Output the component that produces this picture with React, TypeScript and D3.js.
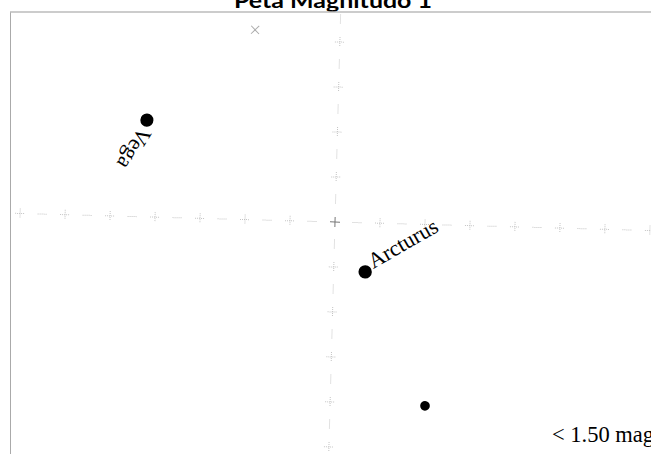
import * as d3 from "d3";

// star map values (grid units, 1 unit = one grid step; v grows upwards)
const starNames = ["Vega", "Arcturus", ""];
const starU = [-4.24, 0.7, 2.11];
const starV = [2.15, -1.09, -4.03];
const starMag = [0.03, -0.05, 0.98];

// zenith / pole marker
const markU = [-1.89];
const markV = [4.22];

// grid ticks along both axes
const uTicks = [-7, -6, -5, -4, -3, -2, -1, 0, 1, 2, 3, 4, 5, 6, 7];
const vTicks = [-5, -4, -3, -2, -1, 0, 1, 2, 3, 4];

const title = "Peta Magnitudo 1";
const legendText = "< 1.50 mag";

const W = 651;
const H = 454;
const cx = 335;
const cy = 222;
const tilt = 1.55;

export default function App() {
  const x = d3.scaleLinear().domain([-1, 1]).range([-45, 45]);
  const y = d3.scaleLinear().domain([-1, 1]).range([45, -45]);
  const r = d3.scaleLinear().domain([-0.05, 1.0]).range([6.7, 4.8]);

  const arm = 5;
  const dash = 5;
  const gridColor = "#c4c4c4";

  const uDashes = uTicks.slice(0, -1).map((t) => t + 0.5);
  const vDashes = [...vTicks.slice(0, -1).map((t) => t + 0.5), 4.5];

  // label offsets / angles (screen space)
  const labelDx = [-7, 8];
  const labelDy = [6, -3];
  const labelRot = [122, -30];

  return (
    <svg
      width={W}
      height={H}
      style={{ position: "absolute", left: 0, top: 0, background: "#fff" }}
    >
      <defs>
        <clipPath id="frame">
          <rect x={10.5} y={12} width={W} height={H} />
        </clipPath>
      </defs>

      <text
        x={333}
        y={8}
        textAnchor="middle"
        fontFamily="Lato, 'Open Sans', sans-serif"
        fontWeight="bold"
        fontSize={21}
        textLength={198}
        lengthAdjust="spacingAndGlyphs"
      >
        {title}
      </text>

      <g clipPath="url(#frame)">
        <g
          transform={`translate(${cx},${cy}) rotate(${tilt})`}
          strokeDasharray="1 1"
        >
          {/* horizontal grid line */}
          {uTicks.map((t) => (
            <g key={"hu" + t} transform={`translate(${x(t)},0)`}>
              <line
                x1={-arm}
                x2={arm}
                stroke={t === 0 ? "#777" : gridColor}
                strokeDasharray={t === 0 ? "none" : "1 1"}
              />
              <line
                y1={-arm}
                y2={arm}
                stroke={t === 0 ? "#777" : gridColor}
                strokeDasharray={t === 0 ? "none" : "1 1"}
              />
            </g>
          ))}
          {uDashes.map((t) => (
            <line
              key={"hd" + t}
              x1={x(t) - dash}
              x2={x(t) + dash}
              stroke={gridColor}
            />
          ))}
          {/* vertical grid line */}
          {vTicks
            .filter((t) => t !== 0)
            .map((t) => (
              <g key={"vu" + t} transform={`translate(0,${y(t)})`}>
                <line x1={-arm} x2={arm} stroke={gridColor} />
                <line y1={-arm} y2={arm} stroke={gridColor} />
              </g>
            ))}
          {vDashes.map((t) => (
            <line
              key={"vd" + t}
              y1={y(t) - dash}
              y2={y(t) + dash}
              stroke={gridColor}
            />
          ))}

          {/* marker */}
          {markU.map((u, i) => (
            <g
              key={"m" + i}
              transform={`translate(${x(u)},${y(markV[i])})`}
              strokeDasharray="none"
            >
              <line x1={-4} y1={-4} x2={4} y2={4} stroke="#aaa" />
              <line x1={-4} y1={4} x2={4} y2={-4} stroke="#aaa" />
            </g>
          ))}

          {/* stars */}
          {starU.map((u, i) => (
            <circle
              key={"s" + i}
              cx={x(u)}
              cy={y(starV[i])}
              r={r(starMag[i])}
              fill="#000"
            />
          ))}
          {starNames.map((name, i) =>
            name ? (
              <text
                key={"l" + i}
                transform={`translate(${x(starU[i]) + labelDx[i]},${y(starV[i]) + labelDy[i]}) rotate(${labelRot[i] - tilt})`}
                fontFamily="'Liberation Serif', 'Times New Roman', serif"
                fontSize={22}
                fill="#000"
              >
                {name}
              </text>
            ) : null
          )}
        </g>
      </g>

      <text
        x={552}
        y={442}
        fontFamily="'Liberation Serif', 'Times New Roman', serif"
        fontSize={22.5}
        fill="#000"
      >
        {legendText}
      </text>

      <line x1={10.5} y1={12} x2={10.5} y2={H} stroke="#aaa" />
      <line x1={10} y1={12} x2={W} y2={12} stroke="#bbb" strokeWidth={1.5} />
    </svg>
  );
}
